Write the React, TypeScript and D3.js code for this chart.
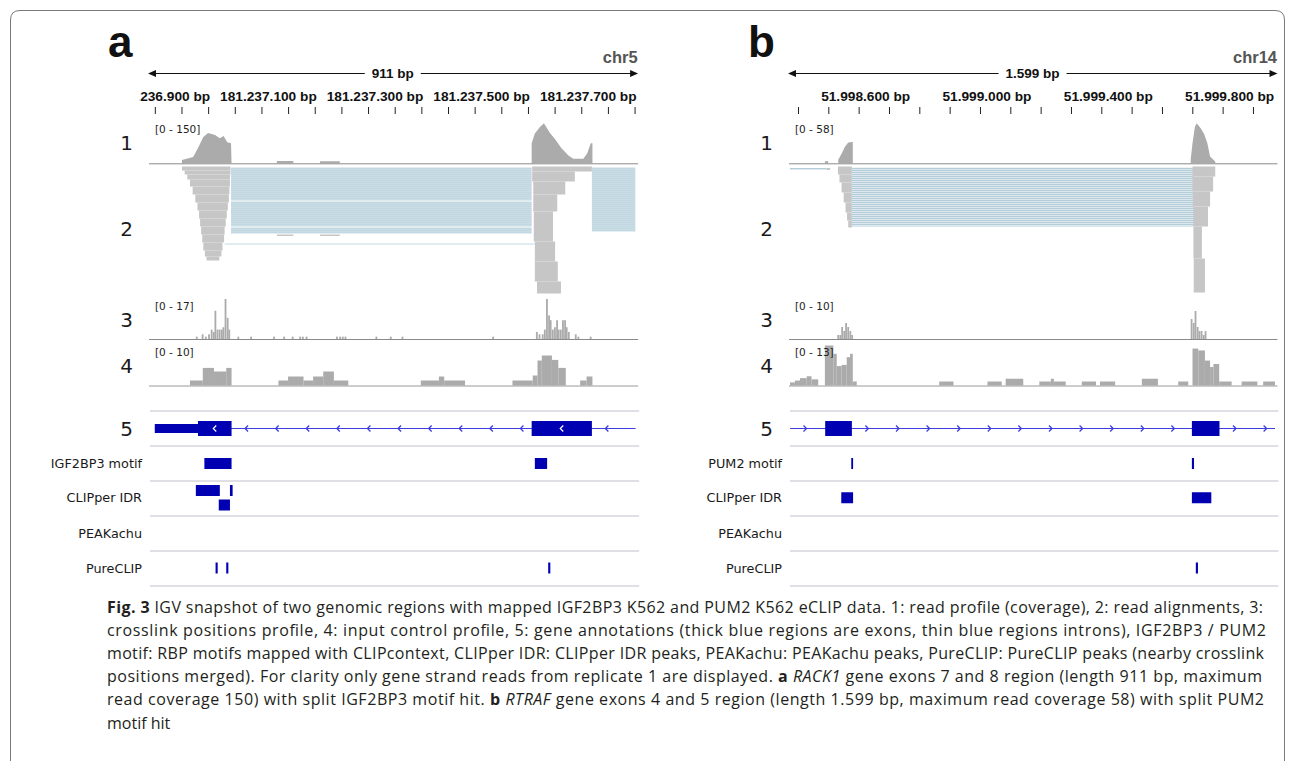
import React, { useEffect, useRef } from 'react';
import * as d3 from 'd3';

const WIDTH = 1293;
const HEIGHT = 761;

// ---------- panel a : chr5, RACK1 (offsets in bp from region start) ----------
const REGION_A = [181236890, 181237801];
const RULER_LABELS_A = [181236900, 181237100, 181237300, 181237500, 181237700];
const RANGES_A = ['[0 - 150]', '[0 - 17]', '[0 - 10]'];
const MAX_A = [150, 17, 10];
const COVERAGE_A = [
  [60, 0], [60, 12], [81, 24], [91, 61], [100, 99], [109, 114], [122, 106], [131, 94], [138, 102],
  [145, 79], [152, 75], [153, 0], [238, 0], [238, 9], [269, 9], [269, 0], [319, 0], [319, 8],
  [356, 8], [356, 0], [716, 0], [716, 75], [722, 112], [732, 137], [739, 150], [750, 115],
  [760, 90], [772, 56], [785, 29], [794, 17], [813, 17], [820, 37], [827, 75], [830, 75], [830, 0],
];
// [start, end, firstRow, lastRow]
const READS_A = [
  [60, 151, 0, 4], [65, 151, 4, 8], [70, 150, 8, 13], [75, 150, 13, 20], [80, 149, 20, 28],
  [85, 148, 28, 36], [89, 146, 36, 44], [92, 144, 44, 52], [94, 142, 52, 60], [96, 140, 60, 68],
  [98, 139, 68, 76], [100, 136, 76, 84], [103, 134, 84, 90], [106, 130, 90, 94],
  [238, 269, 68, 69.5], [319, 356, 68, 69.5],
  [717, 829, 0, 5], [717, 797, 5, 15], [719, 779, 15, 28], [719, 764, 28, 45], [720, 756, 45, 75],
  [722, 760, 75, 95], [722, 765, 95, 115], [726, 771, 115, 127],
];
const SPLITS_A = [
  [152, 716, 1, 34], [152, 716, 35, 60], [152, 716, 61, 67], [140, 722, 77, 78], [829, 911, 1, 65],
];
const CROSSLINK_A = [
  [86, 1], [97, 2], [103, 1], [109, 2], [114, 4], [118, 3], [121, 12], [125, 4], [129, 4], [133, 4],
  [136, 5], [140, 17], [144, 9], [147, 4], [164, 1], [188, 1], [231, 1], [250, 1], [266, 1],
  [280, 1], [285, 1], [292, 1], [349, 1], [355, 1], [360, 1], [365, 1], [423, 1], [450, 1],
  [472, 1], [642, 1], [724, 3], [729, 2], [735, 2], [739, 4], [743, 17], [747, 10], [750, 8],
  [754, 4], [758, 5], [762, 8], [765, 4], [769, 4], [773, 8], [777, 8], [780, 5], [784, 3],
  [797, 2], [802, 1], [825, 1],
];
// [start, end, value]
const INPUT_A = [
  [75, 99, 1.25], [99, 120, 4.4], [120, 143, 3.5], [143, 153, 4.4], [241, 259, 1.25],
  [259, 288, 2.25], [288, 306, 1.25], [306, 325, 2.25], [325, 345, 3.5], [345, 372, 1.25],
  [508, 542, 1.25], [542, 552, 2.25], [552, 591, 1.25], [680, 718, 1.25], [718, 727, 2.5],
  [727, 735, 6.25], [735, 754, 7.5], [754, 766, 6.4], [766, 780, 4.4], [807, 819, 1.25],
  [819, 830, 2.25],
];
const GENE_LINE_A = [9, 911];
const UTR_A = [[9, 90]];
const CDS_A = [[90, 153], [716, 829]];
const MOTIF_A = [[102, 153], [722, 745]];
const CLIPPER_A = [[86, 131, 0], [150, 155, 0], [129, 150, 1]];
const PEAKACHU_A: number[][] = [];
const PURECLIP_A = [[123, 127], [143, 147], [747, 751]];
const FEATURE_NAMES_A = ['IGF2BP3 motif', 'CLIPper IDR', 'PEAKachu', 'PureCLIP'];

// ---------- panel b : chr14, RTRAF ----------
const REGION_B = [51998372, 51999971];
const RULER_LABELS_B = [51998600, 51999000, 51999400, 51999800];
const RANGES_B = ['[0 - 58]', '[0 - 10]', '[0 - 13]'];
const MAX_B = [58, 10, 13];
const COVERAGE_B = [
  [115, 0], [115, 3], [126, 3], [126, 0], [159, 0], [159, 5], [170, 14], [181, 24], [192, 30],
  [205, 31], [207, 31], [207, 0], [1321, 0], [1321, 5], [1327, 29], [1335, 53], [1341, 58],
  [1354, 51], [1365, 43], [1376, 29], [1385, 10], [1401, 3], [1403, 0],
];
const READS_B = [
  [121, 132, 1.5, 3.5], [158, 204, 0, 8], [163, 204, 8, 16], [170, 204, 16, 26], [177, 204, 26, 36],
  [183, 204, 36, 46], [188, 204, 46, 54], [192, 204, 54, 61],
  [1327, 1402, 0, 10], [1327, 1395, 10, 25], [1328, 1385, 25, 40], [1329, 1378, 40, 60],
  [1330, 1358, 60, 92], [1331, 1368, 92, 126],
];
const SPLITS_B = [[0, 121, 1.5, 3.5], [204, 1330, 1, 60]];
const CROSSLINK_B = [
  [156, 1], [163, 1], [169, 3], [176, 2], [182, 4], [189, 3], [196, 2], [202, 1],
  [1321, 5], [1328, 4], [1334, 7], [1341, 3], [1347, 2], [1354, 2], [1361, 1], [1367, 2],
];
const INPUT_B = [
  [0, 16, 1], [16, 33, 1.6], [33, 55, 2.4], [55, 71, 3], [71, 93, 2], [115, 143, 13],
  [143, 154, 10.3], [154, 170, 6.3], [170, 187, 6.7], [187, 198, 9.2], [198, 207, 10.3],
  [207, 220, 1.3], [492, 539, 1.3], [651, 698, 1.3], [711, 769, 2.2], [822, 860, 1.3],
  [860, 870, 2.2], [870, 909, 1.3], [962, 1009, 1.3], [1022, 1072, 1.3], [1160, 1213, 2.2],
  [1280, 1313, 1.3], [1327, 1346, 12], [1346, 1368, 11.4], [1368, 1385, 8.1], [1385, 1396, 6],
  [1396, 1415, 7], [1415, 1456, 1.3], [1489, 1541, 1.3], [1560, 1599, 1.3],
];
const GENE_LINE_B = [0, 1599];
const UTR_B: number[][] = [];
const CDS_B = [[116, 204], [1325, 1416]];
const MOTIF_B = [[202, 208], [1325, 1332]];
const CLIPPER_B = [[169, 208, 0.5], [1325, 1389, 0.5]];
const PEAKACHU_B: number[][] = [];
const PURECLIP_B = [[1338, 1345]];
const FEATURE_NAMES_B = ['PUM2 motif', 'CLIPper IDR', 'PEAKachu', 'PureCLIP'];

const TRACK_NUMBERS = ['1', '2', '3', '4', '5'];

const CAPTION = [
  [['b', 'Fig. 3'], ['', ' IGV snapshot of two genomic regions with mapped IGF2BP3 K562 and PUM2 K562 eCLIP data. 1: read profile (coverage), 2: read alignments, 3:']],
  [['', 'crosslink positions profile, 4: input control profile, 5: gene annotations (thick blue regions are exons, thin blue regions introns), IGF2BP3 / PUM2']],
  [['', 'motif: RBP motifs mapped with CLIPcontext, CLIPper IDR: CLIPper IDR peaks, PEAKachu: PEAKachu peaks, PureCLIP: PureCLIP peaks (nearby crosslink']],
  [['', 'positions merged). For clarity only gene strand reads from replicate 1 are displayed. '], ['b', 'a'], ['', ' '], ['i', 'RACK1'], ['', ' gene exons 7 and 8 region (length 911 bp, maximum']],
  [['', 'read coverage 150) with split IGF2BP3 motif hit. '], ['b', 'b'], ['', ' '], ['i', 'RTRAF'], ['', ' gene exons 4 and 5 region (length 1.599 bp, maximum read coverage 58) with split PUM2']],
  [['', 'motif hit']],
];
const CAPTION_ENDS = [1263, 1266, 1264, 1262, 1264, 0];

const PANELS = [
  {
    letter: 'a', chrom: 'chr5', span: '911 bp', region: REGION_A, rulerLabels: RULER_LABELS_A, minorStep: 50,
    ranges: RANGES_A, max: MAX_A, coverage: COVERAGE_A, reads: READS_A, splits: SPLITS_A,
    crosslinks: CROSSLINK_A, input: INPUT_A, geneLine: GENE_LINE_A, utr: UTR_A, cds: CDS_A, strand: -1,
    features: [MOTIF_A, CLIPPER_A, PEAKACHU_A, PURECLIP_A], featureNames: FEATURE_NAMES_A,
    left: 150, right: 635.6, letterX: 108, splitPattern: 'splitA', exonArrows: true,
  },
  {
    letter: 'b', chrom: 'chr14', span: '1.599 bp', region: REGION_B, rulerLabels: RULER_LABELS_B, minorStep: 100,
    ranges: RANGES_B, max: MAX_B, coverage: COVERAGE_B, reads: READS_B, splits: SPLITS_B,
    crosslinks: CROSSLINK_B, input: INPUT_B, geneLine: GENE_LINE_B, utr: UTR_B, cds: CDS_B, strand: 1,
    features: [MOTIF_B, CLIPPER_B, PEAKACHU_B, PURECLIP_B], featureNames: FEATURE_NAMES_B,
    left: 790, right: 1275, letterX: 748, splitPattern: 'splitB', exonArrows: false,
  },
];

const SANS = 'DejaVu Sans, Verdana, sans-serif';
const ARIAL = 'Liberation Sans, Arial, Helvetica, sans-serif';
const EXON = '#0000b2';
const LINE_BLUE = '#3d3de0';
const COV_GRAY = '#ababab';
const READ_GRAY = '#c6c6c6';

// vertical layout
const RULER_Y = 73.5;
const TICK_Y = [107, 114];
const COV = [123.3, 163.3];
const READ_TOP = 166.5;
const XL = [299, 339];
const INP = [345.5, 385.5];
const SEPARATORS = [411, 446, 481, 516, 551, 586];
const GENE_Y = 428.5;
const NUMBER_Y = [143, 229, 320, 366, 429];
const FEATURE_Y = [463.5, 497.5, 533, 568];

const fmtBp = (v: number) => d3.format(',')(v).replace(/,/g, '.') + ' bp';

const drawPanel = (svg: any, p: any, idx: number) => {
  const len = p.region[1] - p.region[0];
  const x = d3.scaleLinear().domain([0, len]).range([p.left, p.right]);
  const xg = d3.scaleLinear().domain(p.region).range([p.left, p.right]);
  const g = svg.append('g');

  g.append('text').attr('x', p.letterX).attr('y', 57)
    .attr('font-family', ARIAL).attr('font-weight', 'bold').attr('font-size', 44).attr('fill', '#111')
    .text(p.letter);

  g.append('text').attr('x', p.right + 2).attr('y', 63).attr('text-anchor', 'end')
    .attr('font-family', ARIAL).attr('font-weight', 'bold').attr('font-size', 16.5).attr('fill', '#555')
    .text(p.chrom);

  // ruler arrow with span label
  const l0 = p.left - 2, l1 = p.right + 2.5, mid = (p.left + p.right) / 2;
  const spanText = g.append('text').attr('x', mid).attr('y', RULER_Y + 4.5).attr('text-anchor', 'middle')
    .attr('font-family', ARIAL).attr('font-weight', 'bold').attr('font-size', 13.5).attr('fill', '#111')
    .text(p.span);
  const half = (spanText.node() as SVGTextElement).getComputedTextLength() / 2 + 7;
  g.append('line').attr('x1', l0 + 6).attr('x2', mid - half).attr('y1', RULER_Y).attr('y2', RULER_Y).attr('stroke', '#111');
  g.append('line').attr('x1', mid + half).attr('x2', l1 - 6).attr('y1', RULER_Y).attr('y2', RULER_Y).attr('stroke', '#111');
  g.append('path').attr('d', `M${l0},${RULER_Y} l8,-3.5 l0,7 Z M${l1},${RULER_Y} l-8,-3.5 l0,7 Z`).attr('fill', '#111');

  // ruler ticks
  const ticks = d3.range(Math.ceil(p.region[0] / p.minorStep) * p.minorStep, p.region[1] + 1, p.minorStep);
  g.selectAll('.tick').data(ticks).enter().append('line')
    .attr('x1', (d: number) => xg(d)).attr('x2', (d: number) => xg(d))
    .attr('y1', TICK_Y[0]).attr('y2', TICK_Y[1]).attr('stroke', '#222');

  const clipId = `rulerclip${idx}`;
  svg.append('clipPath').attr('id', clipId).append('rect')
    .attr('x', p.left - 10.5).attr('y', 80).attr('width', p.right - p.left + 20).attr('height', 30);
  g.append('g').attr('clip-path', `url(#${clipId})`).selectAll('text').data(p.rulerLabels).enter().append('text')
    .attr('x', (d: number) => xg(d) + 6.5).attr('y', 101).attr('text-anchor', 'middle')
    .attr('font-family', ARIAL).attr('font-weight', 'bold').attr('font-size', 13.7).attr('fill', '#111')
    .text((d: number) => fmtBp(d));

  // track numbers
  g.selectAll('.num').data(TRACK_NUMBERS).enter().append('text')
    .attr('x', p.left - 17).attr('y', (_: string, i: number) => NUMBER_Y[i] + 7).attr('text-anchor', 'end')
    .attr('font-family', SANS).attr('font-size', 20).attr('fill', '#1a1a1a')
    .text((d: string) => d);

  // 1: coverage
  const yc = d3.scaleLinear().domain([0, p.max[0]]).range([COV[1], COV[0]]);
  const area = d3.area<number[]>().x(d => x(d[0])).y0(COV[1]).y1(d => yc(d[1]));
  g.append('path').attr('d', area(p.coverage)).attr('fill', COV_GRAY);
  g.append('line').attr('x1', p.left - 1).attr('x2', p.right + 2.5).attr('y1', COV[1] + 0.5).attr('y2', COV[1] + 0.5)
    .attr('stroke', '#8a8a8a');

  // 2: alignments
  const rowY = (r: number) => READ_TOP + r;
  const clipReads = `readclip${idx}`;
  svg.append('clipPath').attr('id', clipReads).append('rect')
    .attr('x', p.left).attr('y', READ_TOP - 1).attr('width', p.right - p.left).attr('height', 140);
  const rg = g.append('g').attr('clip-path', `url(#${clipReads})`);
  rg.selectAll('.split').data(p.splits).enter().append('rect')
    .attr('x', (d: number[]) => x(d[0])).attr('width', (d: number[]) => x(d[1]) - x(d[0]))
    .attr('y', (d: number[]) => rowY(d[2])).attr('height', (d: number[]) => rowY(d[3]) - rowY(d[2]))
    .attr('fill', `url(#${p.splitPattern})`);
  rg.selectAll('.read').data(p.reads).enter().append('rect')
    .attr('x', (d: number[]) => x(d[0])).attr('width', (d: number[]) => x(d[1]) - x(d[0]))
    .attr('y', (d: number[]) => rowY(d[2])).attr('height', (d: number[]) => rowY(d[3]) - rowY(d[2]))
    .attr('fill', READ_GRAY);

  // 3: crosslinks
  const yx = d3.scaleLinear().domain([0, p.max[1]]).range([XL[1], XL[0]]);
  g.selectAll('.xl').data(p.crosslinks).enter().append('rect')
    .attr('x', (d: number[]) => x(d[0])).attr('width', 1.8)
    .attr('y', (d: number[]) => yx(d[1])).attr('height', (d: number[]) => XL[1] - yx(d[1]))
    .attr('fill', COV_GRAY);
  g.append('line').attr('x1', p.left - 1).attr('x2', p.right + 2.5).attr('y1', XL[1] + 0.5).attr('y2', XL[1] + 0.5)
    .attr('stroke', '#8a8a8a');

  // 4: input control
  const yi = d3.scaleLinear().domain([0, p.max[2]]).range([INP[1], INP[0]]);
  g.selectAll('.inp').data(p.input).enter().append('rect')
    .attr('x', (d: number[]) => x(d[0])).attr('width', (d: number[]) => x(d[1]) - x(d[0]))
    .attr('y', (d: number[]) => yi(d[2])).attr('height', (d: number[]) => INP[1] - yi(d[2]))
    .attr('fill', COV_GRAY);
  g.append('line').attr('x1', p.left - 1).attr('x2', p.right + 2.5).attr('y1', INP[1] + 0.5).attr('y2', INP[1] + 0.5)
    .attr('stroke', '#9a9a9a');

  // range labels, drawn over the tracks
  const rangeY = [COV[0] + 10, XL[0] + 11, INP[0] + 10];
  g.selectAll('.rng').data(p.ranges).enter().append('text')
    .attr('x', p.left + 5).attr('y', (_: string, i: number) => rangeY[i])
    .attr('font-family', SANS).attr('font-size', 10.5).attr('fill', '#222')
    .text((d: string) => d);

  // separators
  g.selectAll('.sep').data(SEPARATORS).enter().append('line')
    .attr('x1', p.left).attr('x2', p.right + 3.5).attr('y1', (d: number) => d).attr('y2', (d: number) => d)
    .attr('stroke', '#d5d5dd').attr('stroke-width', 1.5);

  // 5: gene model
  g.append('line').attr('x1', x(p.geneLine[0])).attr('x2', x(p.geneLine[1]))
    .attr('y1', GENE_Y).attr('y2', GENE_Y).attr('stroke', LINE_BLUE).attr('stroke-width', 1.2);
  const blocks = [...p.utr, ...p.cds].sort((a: number[], b: number[]) => a[0] - b[0]);
  const introns: number[][] = [];
  let prev = p.geneLine[0];
  blocks.forEach((b: number[]) => { if (b[0] > prev) introns.push([prev, b[0]]); prev = Math.max(prev, b[1]); });
  if (prev < p.geneLine[1]) introns.push([prev, p.geneLine[1]]);
  const chevron = (cx: number) => p.strand < 0
    ? `M${cx + 1.5},${GENE_Y - 3} L${cx - 1.5},${GENE_Y} L${cx + 1.5},${GENE_Y + 3}`
    : `M${cx - 1.5},${GENE_Y - 3} L${cx + 1.5},${GENE_Y} L${cx - 1.5},${GENE_Y + 3}`;
  introns.forEach(iv => {
    const a = x(iv[0]), b = x(iv[1]);
    for (let cx = a + 15; cx < b - 6; cx += 30.6) {
      g.append('path').attr('d', chevron(cx)).attr('fill', 'none').attr('stroke', LINE_BLUE).attr('stroke-width', 1.3);
    }
  });
  g.selectAll('.utr').data(p.utr).enter().append('rect')
    .attr('x', (d: number[]) => x(d[0])).attr('width', (d: number[]) => x(d[1]) - x(d[0]))
    .attr('y', GENE_Y - 4.5).attr('height', 9).attr('fill', EXON);
  g.selectAll('.cds').data(p.cds).enter().append('rect')
    .attr('x', (d: number[]) => x(d[0])).attr('width', (d: number[]) => x(d[1]) - x(d[0]))
    .attr('y', GENE_Y - 7.5).attr('height', 15).attr('fill', EXON);
  if (p.exonArrows) {
    p.cds.forEach((d: number[]) => {
      g.append('path').attr('d', chevron((x(d[0]) + x(d[1])) / 2)).attr('fill', 'none')
        .attr('stroke', '#fff').attr('stroke-width', 1.2);
    });
  }

  // feature track labels
  g.selectAll('.fname').data(p.featureNames).enter().append('text')
    .attr('x', p.left - 8).attr('y', (_: string, i: number) => FEATURE_Y[i] + 4.5).attr('text-anchor', 'end')
    .attr('font-family', SANS).attr('font-size', 12.8).attr('fill', '#1a1a1a')
    .text((d: string) => d);

  // feature blocks
  p.features.forEach((feat: number[][], i: number) => {
    const twoRows = i === 1;
    g.selectAll(`.feat${i}`).data(feat).enter().append('rect')
      .attr('x', (d: number[]) => x(d[0])).attr('width', (d: number[]) => Math.max(1.8, x(d[1]) - x(d[0])))
      .attr('y', (d: number[]) => twoRows ? FEATURE_Y[i] - 12.5 + d[2] * 14.5 : FEATURE_Y[i] - 5.5)
      .attr('height', 11)
      .attr('fill', EXON);
  });
};

export default function App() {
  const ref = useRef<SVGSVGElement>(null);

  useEffect(() => {
    const svg = d3.select(ref.current);
    svg.selectAll('*').remove();

    const defs = svg.append('defs');
    const pa = defs.append('pattern').attr('id', 'splitA').attr('patternUnits', 'userSpaceOnUse')
      .attr('width', 8).attr('height', 2);
    pa.append('rect').attr('width', 8).attr('height', 2).attr('fill', '#d0e1e8');
    pa.append('rect').attr('width', 8).attr('height', 1.4).attr('fill', '#c1d7e1');
    const pb = defs.append('pattern').attr('id', 'splitB').attr('patternUnits', 'userSpaceOnUse')
      .attr('width', 8).attr('height', 2);
    pb.append('rect').attr('width', 8).attr('height', 2).attr('fill', '#e8f0f4');
    pb.append('rect').attr('width', 8).attr('height', 1.2).attr('fill', '#b3cdd9');

    // frame
    svg.append('path')
      .attr('d', `M10.5,${HEIGHT} L10.5,20 Q10.5,10.5 20,10.5 L1275,10.5 Q1284.5,10.5 1284.5,20 L1284.5,${HEIGHT}`)
      .attr('fill', 'none').attr('stroke', '#7a7a7a').attr('stroke-width', 1);

    PANELS.forEach((p, i) => drawPanel(svg, p, i));

    // caption
    const cap = svg.append('g').attr('font-family', 'Open Sans, Noto Sans, sans-serif')
      .attr('font-size', 16).attr('fill', '#231f20');
    CAPTION.forEach((line, i) => {
      const t = cap.append('text').attr('x', 107).attr('y', 613 + i * 23.1);
      if (CAPTION_ENDS[i] > 0) t.attr('textLength', CAPTION_ENDS[i] - 107).attr('lengthAdjust', 'spacing');
      line.forEach(([style, str]) => {
        const s = t.append('tspan').text(str);
        if (style === 'b') s.attr('font-weight', 'bold');
        if (style === 'i') s.attr('font-style', 'italic');
      });
    });
  }, []);

  return (
    <svg ref={ref} width={WIDTH} height={HEIGHT} viewBox={`0 0 ${WIDTH} ${HEIGHT}`}
      style={{ position: 'absolute', left: 0, top: 0, background: '#fff' }} />
  );
}
